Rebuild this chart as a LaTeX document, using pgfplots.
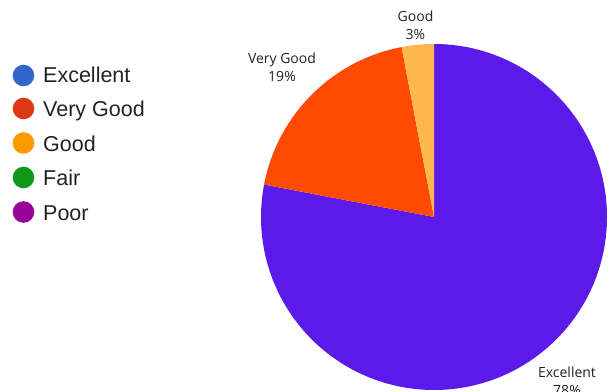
\documentclass[border=0pt]{standalone}
\usepackage{pgfplots}
\pgfplotsset{compat=1.18}
\usepackage{fontspec}
\setmainfont{Liberation Sans}
\newfontfamily\labfont{Open Sans}
\definecolor{pExc}{HTML}{5B1AEA}
\definecolor{pVG}{HTML}{FF4A03}
\definecolor{pG}{HTML}{FFB84D}
\definecolor{lExc}{HTML}{3366CC}
\definecolor{lVG}{HTML}{DC3912}
\definecolor{lG}{HTML}{FF9900}
\definecolor{lF}{HTML}{109618}
\definecolor{lP}{HTML}{990099}
\definecolor{txt}{HTML}{222222}
\begin{document}
\begin{tikzpicture}
\useasboundingbox (0,0) rectangle (613pt,391pt);
\begin{axis}[
  at={(0,0)}, anchor=south west,
  scale only axis, width=613pt, height=391pt,
  xmin=0, xmax=613, ymin=0, ymax=391,
  hide axis, clip=false,
]
% pie: Excellent 78, Very Good 19, Good 3 (clockwise from top)
\addplot[draw=none] coordinates {(434,174)};
\fill[pExc] (axis cs:434,174) -- ++(90:173pt) arc[start angle=90, end angle={90-78*3.6}, radius=173pt] -- cycle;
\fill[pVG] (axis cs:434,174) -- ++({90-78*3.6}:173pt) arc[start angle={90-78*3.6}, end angle={90-97*3.6}, radius=173pt] -- cycle;
\fill[pG] (axis cs:434,174) -- ++({90-97*3.6}:173pt) arc[start angle={90-97*3.6}, end angle={-270}, radius=173pt] -- cycle;
% pie labels
\node[font=\labfont\fontsize{14}{18}\selectfont, text=txt, align=center] at (axis cs:415.5,366) {Good\\3\%};
\node[font=\labfont\fontsize{14}{18}\selectfont, text=txt, align=center] at (axis cs:282,324) {Very Good\\19\%};
\node[font=\labfont\fontsize{14}{18}\selectfont, text=txt, align=center] at (axis cs:567,9.5) {Excellent\\78\%};
% legend
\fill[lExc] (axis cs:23.5,{391-75.5}) circle[radius=10.8];
\fill[lVG] (axis cs:23.5,{391-108.5}) circle[radius=10.8];
\fill[lG] (axis cs:23.5,{391-143}) circle[radius=10.8];
\fill[lF] (axis cs:23.5,{391-177.5}) circle[radius=10.8];
\fill[lP] (axis cs:23.5,{391-212}) circle[radius=10.8];
\node[anchor=base west, inner sep=0pt, font=\fontsize{21.5}{24}\selectfont, text=txt] at (axis cs:43,{391-82.3}) {Excellent};
\node[anchor=base west, inner sep=0pt, font=\fontsize{21.5}{24}\selectfont, text=txt] at (axis cs:43,{391-116.8}) {Very Good};
\node[anchor=base west, inner sep=0pt, font=\fontsize{21.5}{24}\selectfont, text=txt] at (axis cs:43,{391-151.3}) {Good};
\node[anchor=base west, inner sep=0pt, font=\fontsize{21.5}{24}\selectfont, text=txt] at (axis cs:43,{391-185.8}) {Fair};
\node[anchor=base west, inner sep=0pt, font=\fontsize{21.5}{24}\selectfont, text=txt] at (axis cs:43,{391-220.3}) {Poor};
\end{axis}
\end{tikzpicture}
\end{document}
